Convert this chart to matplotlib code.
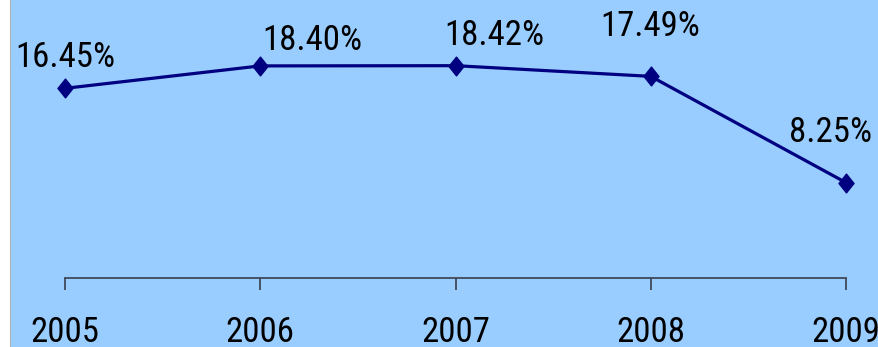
import matplotlib
matplotlib.use("Agg")
import matplotlib.pyplot as plt
from matplotlib import font_manager
from matplotlib.path import Path
from matplotlib.patches import Rectangle

years = [2005, 2006, 2007, 2008, 2009]
values = [16.45, 18.40, 18.42, 17.49, 8.25]
labels = ["16.45%", "18.40%", "18.42%", "17.49%", "8.25%"]
# label offsets in pixels (dx, dy) from each marker
label_dx = [0, 52, 39, -1, -16]
label_dy = [21, 16, 21, 40, 41]

# narrow sans like Arial Narrow
names = {f.name for f in font_manager.fontManager.ttflist}
font = "Liberation Sans"
for cand in ["Liberation Sans Narrow", "Roboto Condensed", "Archivo Narrow", "Asap Condensed"]:
    if cand in names:
        font = cand
        break
plt.rcParams['font.family'] = [font, 'DejaVu Sans']

bg = "#99ccff"
navy = "#000080"

fig = plt.figure(figsize=(8.79, 3.47), dpi=100)
fig.patch.set_facecolor(bg)
ax = fig.add_axes([0, 0, 1, 1])
ax.set_facecolor(bg)

# white strip and border on the left edge
fig.patches.append(Rectangle((0, 0), 10 / 879, 1, transform=fig.transFigure,
                             facecolor="white", edgecolor="none", zorder=5))
fig.patches.append(Rectangle((10 / 879, 0), 1.5 / 879, 1, transform=fig.transFigure,
                             facecolor="#b0b0b0", edgecolor="none", zorder=5))

diamond = Path([(0, 1), (0.8, 0), (0, -1), (-0.8, 0), (0, 1)],
               [Path.MOVETO, Path.LINETO, Path.LINETO, Path.LINETO, Path.CLOSEPOLY])

ax.plot(years, values, color=navy, lw=2.3, marker=diamond, markersize=13.5,
        markerfacecolor=navy, markeredgecolor=navy, zorder=3)

for x, v, t, dx, dy in zip(years, values, labels, label_dx, label_dy):
    ax.annotate(t, (x, v), xytext=(dx * 0.72, dy * 0.72), textcoords="offset points",
                ha="center", va="baseline", fontsize=25, color="black")

ax.set_xlim(2005 - 65 / 195.25, 2005 + (879 - 65) / 195.25)
ax.set_ylim(-(347 - 277.5) / 11.5, 277.5 / 11.5)

for s in ["top", "right", "left"]:
    ax.spines[s].set_visible(False)
ax.spines["bottom"].set_position(("data", 0))
ax.spines["bottom"].set_bounds(2005, 2009)
ax.spines["bottom"].set_color("#404858")
ax.spines["bottom"].set_linewidth(1.3)
ax.set_yticks([])
ax.set_xticks(years)
ax.set_xticklabels([str(y) for y in years])
ax.tick_params(axis="x", direction="out", length=8.5, width=1.3, color="#404858",
               pad=19, labelsize=25, labelcolor="black")

fig.savefig("out.png", dpi=100, facecolor=bg)
